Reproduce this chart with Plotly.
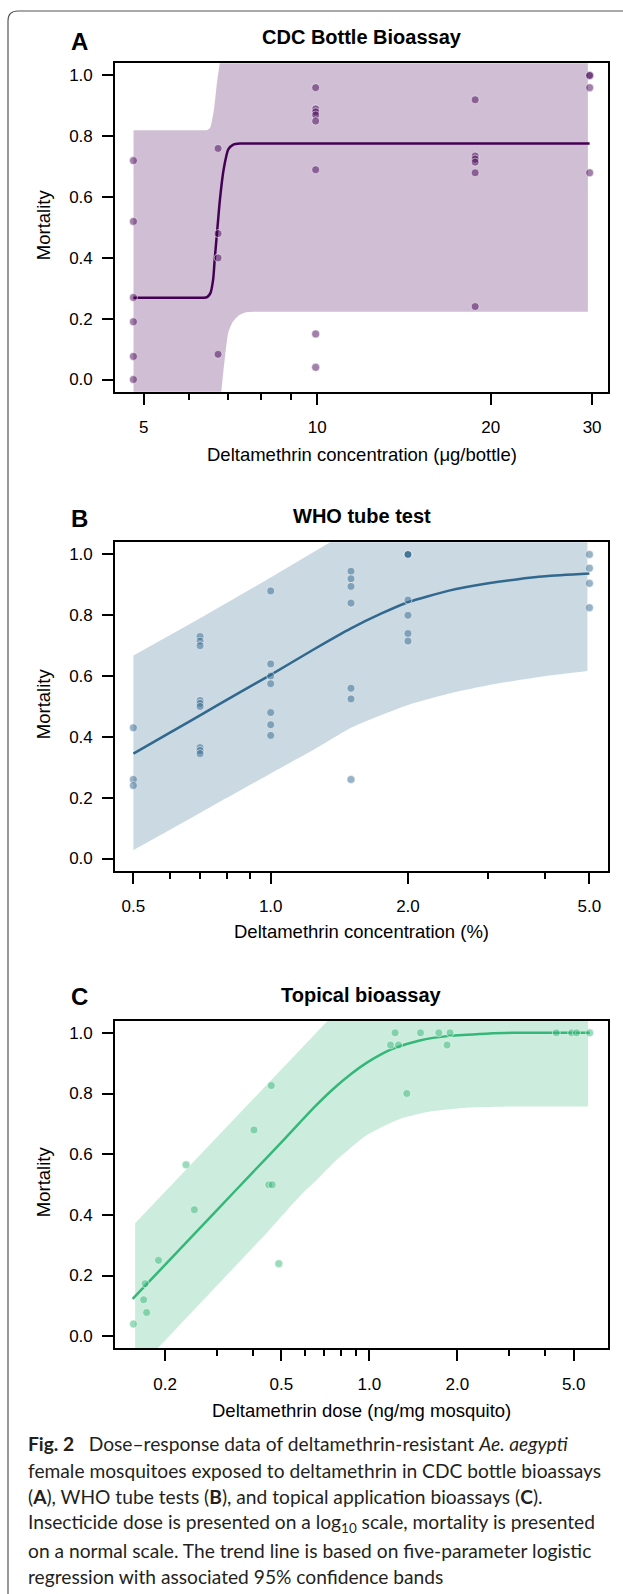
import plotly.graph_objects as go

W, H = 623, 1594
FONT = "Liberation Sans, Arial, Helvetica, sans-serif"
CAP_FONT = "Lato, Open Sans, sans-serif"

# ---------------- Panel A: CDC bottle bioassay ----------------
a_x = [4.8, 4.8, 4.8, 4.8, 4.8, 4.8,
       6.73, 6.73, 6.73, 6.73,
       9.94, 9.94, 9.94, 9.94, 9.94, 9.94, 9.94, 9.94,
       18.8, 18.8, 18.8, 18.8, 18.8, 18.8,
       29.7, 29.7, 29.7, 29.7]
a_y = [0.72, 0.52, 0.27, 0.19, 0.076, 0.0,
       0.76, 0.48, 0.40, 0.083,
       0.96, 0.89, 0.88, 0.87, 0.85, 0.69, 0.15, 0.04,
       0.92, 0.735, 0.725, 0.715, 0.68, 0.24,
       1.0, 1.0, 0.96, 0.68]
a_fit_x = [4.8, 5.5, 6.1, 6.35, 6.45, 6.53, 6.60, 6.64, 6.70, 6.78, 6.88, 7.01, 7.14, 7.35, 8.0, 10, 20, 29.7]
a_fit_y = [0.269, 0.269, 0.269, 0.269, 0.272, 0.285, 0.33, 0.395, 0.48, 0.592, 0.69, 0.757, 0.772, 0.776, 0.776, 0.776, 0.776, 0.776]
a_up_x = [4.8, 5.5, 6.1, 6.35, 6.45, 6.52, 6.62, 6.70, 6.77, 6.85, 7.0, 8.0, 29.5]
a_up_y = [0.82, 0.82, 0.82, 0.82, 0.821, 0.828, 0.888, 0.976, 1.036, 1.15, 1.25, 1.25, 1.25]
a_lo_x = [4.8, 6.0, 6.6, 6.75, 6.82, 6.91, 7.01, 7.14, 7.3, 7.53, 8.0, 10, 29.5]
a_lo_y = [-0.3, -0.3, -0.3, -0.2, -0.04, 0.066, 0.154, 0.19, 0.21, 0.221, 0.223, 0.223, 0.223]
a_major = [5, 10, 20, 30]
a_labels = ["5", "10", "20", "30"]
a_minor = [6, 7, 8, 9]

# ---------------- Panel B: WHO tube test ----------------
b_x = [0.5, 0.5, 0.5,
       0.7, 0.7, 0.7, 0.7, 0.7, 0.7, 0.7, 0.7, 0.7,
       1.0, 1.0, 1.0, 1.0, 1.0, 1.0, 1.0,
       1.5, 1.5, 1.5, 1.5, 1.5, 1.5, 1.5,
       2.0, 2.0, 2.0, 2.0, 2.0, 2.0, 2.0,
       5.0, 5.0, 5.0, 5.0]
b_y = [0.43, 0.26, 0.24,
       0.73, 0.715, 0.70, 0.52, 0.51, 0.50, 0.365, 0.355, 0.345,
       0.88, 0.64, 0.60, 0.575, 0.48, 0.44, 0.405,
       0.945, 0.92, 0.895, 0.84, 0.56, 0.525, 0.26,
       1.0, 1.0, 1.0, 0.85, 0.80, 0.74, 0.715,
       1.0, 0.955, 0.905, 0.825]
b_fit_x = [0.5, 0.6, 0.7, 0.85, 1.0, 1.25, 1.5, 1.75, 2.0, 2.46, 3.0, 3.46, 4.0, 5.0]
b_fit_y = [0.345, 0.413, 0.471, 0.544, 0.604, 0.69, 0.757, 0.806, 0.843, 0.881, 0.905, 0.918, 0.928, 0.937]
b_up_x = [0.5, 0.7, 1.0, 1.35, 1.6, 4.95]
b_up_y = [0.668, 0.79, 0.924, 1.04, 1.10, 1.20]
b_lo_x = [0.5, 0.7, 1.0, 1.25, 1.5, 1.75, 2.0, 2.5, 3.0, 4.0, 4.95]
b_lo_y = [0.028, 0.150, 0.280, 0.36, 0.43, 0.472, 0.505, 0.545, 0.57, 0.60, 0.617]
b_major = [0.5, 1.0, 2.0, 5.0]
b_labels = ["0.5", "1.0", "2.0", "5.0"]
b_minor = [0.6, 0.7, 0.8, 0.9, 3, 4]

# ---------------- Panel C: Topical bioassay ----------------
c_x = [0.156, 0.169, 0.171, 0.173, 0.190, 0.236, 0.252, 0.403, 0.462, 0.453, 0.465, 0.490,
       1.181, 1.225, 1.258, 1.343, 1.496, 1.728, 1.844, 1.888, 4.36, 4.92, 5.11, 5.67]
c_y = [0.040, 0.12, 0.173, 0.078, 0.25, 0.565, 0.417, 0.68, 0.826, 0.499, 0.499, 0.239,
       0.96, 1.0, 0.96, 0.80, 1.0, 1.0, 0.96, 1.0, 1.0, 1.0, 1.0, 1.0]
c_fit_x = [0.155, 0.2, 0.3, 0.4, 0.5, 0.579, 0.656, 0.752, 0.87, 0.978, 1.1, 1.206, 1.487, 1.884, 2.51, 3.07, 4.0, 5.67]
c_fit_y = [0.123, 0.235, 0.414, 0.541, 0.639, 0.705, 0.76, 0.815, 0.866, 0.901, 0.930, 0.948, 0.975, 0.990, 0.997, 1.0, 1.0, 1.0]
c_up_x = [0.158, 0.3, 0.5, 0.656, 0.72, 0.9, 5.6]
c_up_y = [0.372, 0.653, 0.877, 0.997, 1.04, 1.15, 1.2]
c_lo_x = [0.158, 0.189, 0.3, 0.45, 0.579, 0.656, 0.752, 0.978, 1.271, 1.652, 2.148, 3.07, 4.0, 5.6]
c_lo_y = [-0.119, -0.04, 0.165, 0.345, 0.462, 0.512, 0.57, 0.662, 0.716, 0.742, 0.753, 0.757, 0.757, 0.757]
c_major = [0.2, 0.5, 1.0, 2.0, 5.0]
c_labels = ["0.2", "0.5", "1.0", "2.0", "5.0"]
c_minor = [0.3, 0.4, 0.6, 0.7, 0.8, 0.9, 3, 4]

y_ticks = [0.0, 0.2, 0.4, 0.6, 0.8, 1.0]
y_labels = ["0.0", "0.2", "0.4", "0.6", "0.8", "1.0"]

titles = ["CDC Bottle Bioassay", "WHO tube test", "Topical bioassay"]
letters = ["A", "B", "C"]
xtitles = ["Deltamethrin concentration (\u03bcg/bottle)", "Deltamethrin concentration (%)",
           "Deltamethrin dose (ng/mg mosquito)"]
colors = [(68, 1, 84), (49, 104, 142), (53, 183, 121)]

caption_lines = [
    "<b>Fig. 2</b>\u2002 Dose\u2013response data of deltamethrin-resistant <i>Ae. aegypti</i>",
    "female mosquitoes exposed to deltamethrin in CDC bottle bioassays",
    "(<b>A</b>), WHO tube tests (<b>B</b>), and topical application bioassays (<b>C</b>).",
    "Insecticide dose is presented on a log<sub>10</sub> scale, mortality is presented",
    "on a normal scale. The trend line is based on five-parameter logistic",
    "regression with associated 95% confidence bands",
]

# ---------------- layout geometry (pixels) ----------------
box_left, box_right = 115.2, 607.9
boxes = [(63.3, 391.7), (542.3, 870.7), (1020.7, 1348.3)]
title_y = [37.3, 515.7, 995.0]
letter_y = [41.5, 518.0, 996.0]
letter_x = 79.5
xtitle_y = [454.0, 931.7, 1410.0]
ylabel_x = 43.7
caption_y = [1443.3, 1470.0, 1496.7, 1523.3, 1550.0, 1576.7]
caption_x = 25.8


def px(x):
    return x / W


def py(y):
    return 1 - y / H


panels = [
    (a_x, a_y, a_fit_x, a_fit_y, a_up_x, a_up_y, a_lo_x, a_lo_y, a_major, a_labels, a_minor,
     [0.6495, 1.5045], ["spline", "spline"]),
    (b_x, b_y, b_fit_x, b_fit_y, b_up_x, b_up_y, b_lo_x, b_lo_y, b_major, b_labels, b_minor,
     [-0.341, 0.7395], ["spline", "linear"]),
    (c_x, c_y, c_fit_x, c_fit_y, c_up_x, c_up_y, c_lo_x, c_lo_y, c_major, c_labels, c_minor,
     [-0.8694, 0.816], ["spline", "linear"]),
]

fig = go.Figure()
layout = dict(
    width=W, height=H, margin=dict(l=0, r=0, t=0, b=0),
    paper_bgcolor="white", plot_bgcolor="white", showlegend=False,
    font=dict(family=FONT, color="black"),
    annotations=[], shapes=[],
)

for i, (px_, py_, fx, fy, ux, uy, lx, ly, major, labels, minor, xr, shapes) in enumerate(panels):
    n = "" if i == 0 else str(i + 1)
    xa, ya = "x" + n, "y" + n
    r, g, b = colors[i]
    solid = f"rgb({r},{g},{b})"
    band = f"rgba({r},{g},{b},0.25)"
    pts = f"rgba({r},{g},{b},0.5)"
    fig.add_trace(go.Scatter(x=lx, y=ly, mode="lines", line=dict(width=0, shape=shapes[0], smoothing=0.6),
                             xaxis=xa, yaxis=ya, hoverinfo="skip"))
    fig.add_trace(go.Scatter(x=ux, y=uy, mode="lines", line=dict(width=0, shape=shapes[1], smoothing=0.6),
                             fill="tonexty", fillcolor=band, xaxis=xa, yaxis=ya, hoverinfo="skip"))
    fig.add_trace(go.Scatter(x=fx, y=fy, mode="lines", line=dict(color=solid, width=2.5, shape="spline", smoothing=0.6),
                             xaxis=xa, yaxis=ya))
    fig.add_trace(go.Scatter(x=px_, y=py_, mode="markers",
                             marker=dict(size=8, color=pts, line=dict(color="rgba(255,255,255,0.55)", width=1)),
                             xaxis=xa, yaxis=ya))
    top, bot = boxes[i]
    layout["xaxis" + n] = dict(
        type="log", range=xr, domain=[px(box_left), px(box_right)], anchor=ya,
        tickmode="array", tickvals=major, ticktext=labels,
        ticks="outside", ticklen=11, tickwidth=2, tickcolor="black",
        showline=True, linewidth=2, linecolor="black", mirror=True,
        showgrid=False, zeroline=False, ticklabelstandoff=8,
        tickfont=dict(family=FONT, size=17, color="black"),
        minor=dict(tickmode="array", tickvals=minor, ticks="outside", ticklen=6,
                   tickwidth=2, tickcolor="black", showgrid=False),
    )
    layout["yaxis" + n] = dict(
        range=[-0.04, 1.04], domain=[py(bot), py(top)], anchor=xa,
        tickmode="array", tickvals=y_ticks, ticktext=y_labels,
        ticks="outside", ticklen=11, tickwidth=2, tickcolor="black",
        showline=True, linewidth=2, linecolor="black", mirror=True,
        showgrid=False, zeroline=False, ticklabelstandoff=6,
        tickfont=dict(family=FONT, size=17, color="black"),
    )
    cx = px((box_left + box_right) / 2)
    layout["annotations"] += [
        dict(text=f"<b>{titles[i]}</b>", x=cx, y=py(title_y[i]), xref="paper", yref="paper",
             xanchor="center", yanchor="middle", showarrow=False, font=dict(family=FONT, size=20)),
        dict(text=f"<b>{letters[i]}</b>", x=px(letter_x), y=py(letter_y[i]), xref="paper", yref="paper",
             xanchor="center", yanchor="middle", showarrow=False, font=dict(family=FONT, size=24)),
        dict(text=xtitles[i], x=cx, y=py(xtitle_y[i]), xref="paper", yref="paper",
             xanchor="center", yanchor="middle", showarrow=False, font=dict(family=FONT, size=18.5)),
        dict(text="Mortality", x=px(ylabel_x), y=py((top + bot) / 2 - 3), xref="paper", yref="paper",
             xanchor="center", yanchor="middle", showarrow=False, textangle=-90,
             font=dict(family=FONT, size=18.5)),
    ]

for j, line in enumerate(caption_lines):
    layout["annotations"].append(
        dict(text=line, x=px(caption_x), y=py(caption_y[j]), xref="paper", yref="paper",
             xanchor="left", yanchor="middle", showarrow=False,
             font=dict(family=CAP_FONT, size=19.2, color="#231f20")))

# rounded outer frame (left + top edges)
fx0, fy0, rad = 8, 11, 10
layout["shapes"].append(dict(
    type="path", xref="paper", yref="paper",
    path=(f"M {px(fx0)},{py(H + 5)} L {px(fx0)},{py(fy0 + rad)} "
          f"Q {px(fx0)},{py(fy0)} {px(fx0 + rad)},{py(fy0)} L {px(W + 5)},{py(fy0)}"),
    line=dict(color="#555555", width=1.2)))

fig.update_layout(**layout)
fig.write_html("out.html", config={"displayModeBar": False},
               post_script="document.body.style.margin='0';document.body.style.overflow='hidden';")
